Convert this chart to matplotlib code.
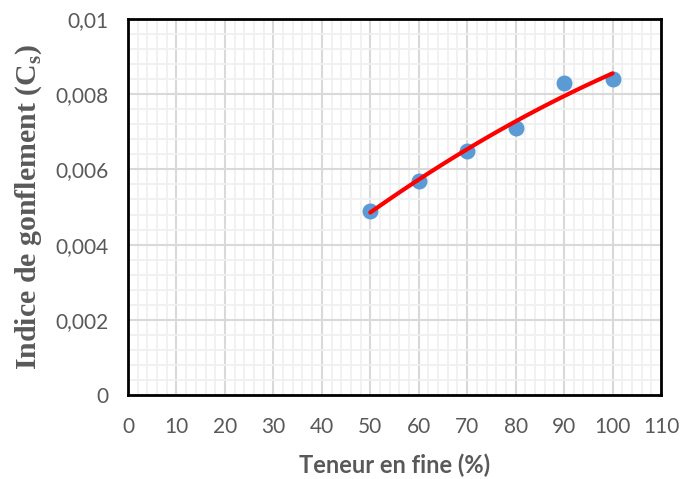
import numpy as np
import matplotlib
matplotlib.use('Agg')
import matplotlib.pyplot as plt
from matplotlib.ticker import MultipleLocator, FuncFormatter

plt.rcParams['mathtext.fontset'] = 'custom'
plt.rcParams['mathtext.rm'] = 'Liberation Serif'
plt.rcParams['mathtext.bf'] = 'Liberation Serif:bold'

teneur = [50, 60, 70, 80, 90, 100]
indice = [0.0049, 0.0057, 0.0065, 0.0071, 0.0083, 0.0084]

# tendance polynomiale (ordre 2) comme dans Excel
coef = np.polyfit(teneur, indice, 2)
xfit = np.linspace(50, 100, 100)
yfit = np.polyval(coef, xfit)

fig = plt.figure(figsize=(6.81, 4.79), dpi=100)
ax = fig.add_axes([128 / 681, 1 - 395 / 479, 533 / 681, 376 / 479])

ax.scatter(teneur, indice, s=110, color='#5b9bd5', zorder=3)
ax.plot(xfit, yfit, color='#ff0000', lw=3, zorder=4, solid_capstyle='round')

ax.set_xlim(0, 110)
ax.set_ylim(0, 0.01)
ax.xaxis.set_major_locator(MultipleLocator(10))
ax.xaxis.set_minor_locator(MultipleLocator(2))
ax.yaxis.set_major_locator(MultipleLocator(0.002))
ax.yaxis.set_minor_locator(MultipleLocator(0.0004))
ax.grid(which='major', color='#d9d9d9', lw=1.5)
ax.grid(which='minor', color='#f0f0f0', lw=1.3)
ax.set_axisbelow(True)

def fmt(v, pos):
    if abs(v) < 1e-12:
        return '0'
    return ('%g' % round(v, 4)).replace('.', ',')

ax.yaxis.set_major_formatter(FuncFormatter(fmt))
ax.tick_params(which='both', length=0)
ax.tick_params(axis='x', labelsize=15, labelcolor='#595959', pad=16)
ax.tick_params(axis='y', labelsize=15, labelcolor='#595959', pad=14)
for lab in ax.get_xticklabels() + ax.get_yticklabels():
    lab.set_family('Lato')

for s in ax.spines.values():
    s.set_color('black')
    s.set_linewidth(2)

ax.set_xlabel('Teneur en fine (%)', fontsize=17, fontweight='bold', color='#595959',
              family='Lato', labelpad=12)
ax.set_ylabel(r'Indice de gonflement (C$_\mathbf{s}$)', fontsize=21.5, fontweight='bold',
              color='#595959', family='Liberation Serif', labelpad=8)

plt.savefig('out.png', dpi=100)
